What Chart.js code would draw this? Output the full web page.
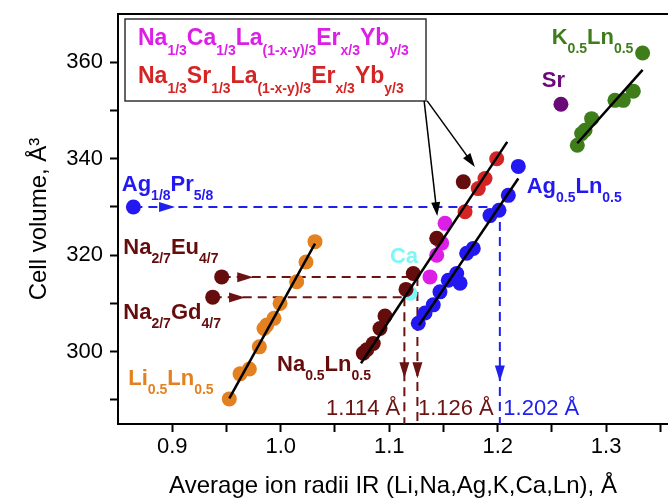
<!DOCTYPE html>
<html><head><meta charset="utf-8">
<script src="https://cdn.jsdelivr.net/npm/chart.js@4"></script>
<style>html,body{margin:0;padding:0;background:#fff}</style>
</head><body>
<canvas id="c" width="668" height="499"></canvas>
<script>
// ---- data ----
const liX = [1.0316,1.0233,1.0147,0.9994,0.9938,0.9871,0.9846,0.9803,0.9711,0.9625,0.9526];
const liY = [322.8,318.6,314.5,310.0,306.9,305.5,304.8,301.0,296.4,295.4,290.2];
const naX = [1.1683,1.1438,1.1222,1.1155,1.0961,1.0915,1.0853,1.0793,1.0761];
const naY = [335.2,323.5,316.2,312.9,307.4,304.8,301.7,300.4,299.7];
const naCaX = [1.1515,1.1484,1.1438,1.1376];
const naCaY = [326.6,322.5,320.0,315.5];
const naSrX = [1.1991,1.1883,1.1821,1.1699];
const naSrY = [340.0,335.9,333.8,329.0];
const caX = [1.1192];
const caY = [312.1];
const agX = [1.2190,1.2098,1.2012,1.1929,1.1775,1.1714,1.1622,1.1653,1.1545,1.1468,1.1406,1.1330,1.1268];
const agY = [338.4,332.4,329.3,328.2,321.4,320.4,316.2,314.2,314.8,312.4,309.7,308.0,305.9];
const kX = [1.3336,1.3250,1.3158,1.3081,1.2866,1.2805,1.2774,1.2734];
const kY = [361.9,354.0,352.1,352.1,348.3,345.9,345.2,342.8];
const srX = [1.2583];
const srY = [351.3];
const euX = [0.9456], euY = [315.5];
const gdX = [0.9373], gdY = [311.3];
const agPrX = [0.8642], agPrY = [330.0];
// fitted lines (end points)
const liFitX = [0.9526,1.0316], liFitY = [290.3,322.4];
const naFitX = [1.0740,1.2088], naFitY = [297.6,343.5];
const agFitX = [1.1275,1.2190], agFitY = [305.5,335.9];
const kFitX = [1.2734,1.3336], kFitY = [343.2,358.4];
// marked radii
const irMarks = [1.114, 1.126, 1.202];
// tick values
const xMajor = [0.9,1.0,1.1,1.2,1.3];
const xTicks = [0.9,0.95,1.0,1.05,1.1,1.15,1.2,1.25,1.3,1.35];
const yMajor = [300,320,340,360];
const yTicks = [290,300,310,320,330,340,350,360];

const C = {li:'#e3801f', na:'#650c0c', naCa:'#dc1fe6', naSr:'#d42525', ca:'#7ef7f7',
           ag:'#2418f2', k:'#3f7d1b', sr:'#6a0a78', blueLine:'#2020ee', marLine:'#6b1212'};
const mk = (xs, ys) => xs.map((x,i)=>({x, y: ys[i]}));
const FONT = '"Liberation Sans", Arial, sans-serif';

function pts(xs, ys, color, order){
  return {data: mk(xs,ys), backgroundColor: color, borderWidth: 0, pointRadius: 7.5, pointHoverRadius: 7.5, order: order||3};
}
function fit(xs, ys){
  return {type:'line', data: mk(xs,ys), borderColor:'#000', borderWidth:2.5, pointRadius:0, showLine:true, fill:false, order:1};
}
function dash(xs, ys, color){
  return {type:'line', data: mk(xs,ys), borderColor:color, borderWidth:2, borderDash:[9,6], pointRadius:0, showLine:true, fill:false, order:5};
}

const datasets = [
  dash([agPrX[0], irMarks[2]],[agPrY[0],agPrY[0]], C.blueLine),
  dash([irMarks[2], irMarks[2]],[agPrY[0],285], C.blueLine),
  dash([euX[0], irMarks[1]],[euY[0],euY[0]], C.marLine),
  dash([irMarks[1], irMarks[1]],[euY[0],285], C.marLine),
  dash([gdX[0], irMarks[0]],[gdY[0],gdY[0]], C.marLine),
  dash([irMarks[0], irMarks[0]],[gdY[0],285], C.marLine),
  pts(liX, liY, C.li),
  pts(naCaX, naCaY, C.naCa),
  pts(naX, naY, C.na, 2),
  pts(naSrX, naSrY, C.naSr),
  pts(caX, caY, C.ca, 2),
  pts(agX, agY, C.ag),
  pts(kX, kY, C.k),
  pts(srX, srY, C.sr),
  pts(euX, euY, C.na),
  pts(gdX, gdY, C.na),
  pts(agPrX, agPrY, C.ag),
  fit(liFitX, liFitY), fit(naFitX, naFitY), fit(agFitX, agFitY), fit(kFitX, kFitY)
];

// annotations (data coordinates)
const heads = [
  {x:0.9026, y:330.0, dir:'r', c:C.blueLine},
  {x:0.9747, y:315.4, dir:'r', c:C.marLine},
  {x:0.9671, y:311.2, dir:'r', c:C.marLine},
  {x:irMarks[0], y:294.5, dir:'d', c:C.marLine},
  {x:irMarks[1], y:294.5, dir:'d', c:C.marLine},
  {x:irMarks[2], y:293.8, dir:'d', c:C.blueLine}
];
const pointers = [
  {x0:1.1322, y0:352.0, x1:1.1443, y1:328.1},
  {x0:1.1350, y0:352.0, x1:1.1790, y1:338.3}
];
const labels = [
  {x:1.2498, y:363.85, c:C.k, p:[['K'],['0.5',1],['Ln'],['0.5',1]]},
  {x:1.2406, y:354.87, c:C.sr, p:[['Sr']]},
  {x:1.2267, y:332.92, c:C.ag, p:[['Ag'],['0.5',1],['Ln'],['0.5',1]]},
  {x:0.8535, y:333.27, c:C.ag, p:[['Ag'],['1/8',1],['Pr'],['5/8',1]]},
  {x:0.8549, y:320.23, c:C.na, p:[['Na'],['2/7',1],['Eu'],['4/7',1]]},
  {x:0.8549, y:306.77, c:C.na, p:[['Na'],['2/7',1],['Gd'],['4/7',1]]},
  {x:0.8595, y:293.1, c:C.li, p:[['Li'],['0.5',1],['Ln'],['0.5',1]]},
  {x:0.9966, y:296.0, c:C.na, p:[['Na'],['0.5',1],['Ln'],['0.5',1]]},
  {x:1.1007, y:318.36, c:C.ca, p:[['Ca']]}
];
const valueLabels = [
  {x:1.0418, y:286.9, c:C.marLine, t:irMarks[0].toFixed(3)+' Å'},
  {x:1.1265, y:286.9, c:C.marLine, t:irMarks[1].toFixed(3)+' Å'},
  {x:1.2052, y:286.9, c:C.blueLine, t:irMarks[2].toFixed(3)+' Å'}
];
const legendLines = [
  {c:C.naCa, p:[['Na'],['1/3',1],['Ca'],['1/3',1],['La'],['(1-x-y)/3',1],['Er'],['x/3',1],['Yb'],['y/3',1]]},
  {c:C.naSr, p:[['Na'],['1/3',1],['Sr'],['1/3',1],['La'],['(1-x-y)/3',1],['Er'],['x/3',1],['Yb'],['y/3',1]]}
];

function rich(ctx, x, y, parts, color, big, small, off){
  ctx.fillStyle = color; ctx.textAlign='left'; ctx.textBaseline='alphabetic';
  parts.forEach(([t,sub])=>{
    ctx.font = 'bold ' + (sub?small:big) + 'px ' + FONT;
    ctx.fillText(t, x, sub ? y+off : y);
    x += ctx.measureText(t).width;
  });
}
function head(ctx, x, y, dir, color){
  ctx.save(); ctx.translate(x,y);
  if (dir==='d') ctx.rotate(Math.PI/2);
  ctx.fillStyle=color; ctx.beginPath();
  ctx.moveTo(0,0); ctx.lineTo(-16,-5); ctx.lineTo(-16,5); ctx.closePath(); ctx.fill();
  ctx.restore();
}

const annot = {
  id:'annot',
  afterDatasetsDraw(chart){
    const {ctx, chartArea:a, scales:{x, y}} = chart;
    ctx.save();
    // top frame line
    ctx.strokeStyle='#000'; ctx.lineWidth=2;
    ctx.beginPath(); ctx.moveTo(a.left-1, a.top); ctx.lineTo(chart.width, a.top); ctx.stroke();
    heads.forEach(h=>head(ctx, x.getPixelForValue(h.x), y.getPixelForValue(h.y), h.dir, h.c));
    // legend box
    const bx=a.left+7, by=a.top+5, bw=301, bh=82;
    ctx.fillStyle='#fff'; ctx.fillRect(bx,by,bw,bh);
    ctx.strokeStyle='#333'; ctx.lineWidth=1.5; ctx.strokeRect(bx,by,bw,bh);
    legendLines.forEach((l,i)=>rich(ctx, bx+13, by+26+i*38, l.p, l.c, 23, 14, 10));
    // pointer arrows
    pointers.forEach(p=>{
      const x0=x.getPixelForValue(p.x0), y0=y.getPixelForValue(p.y0);
      const x1=x.getPixelForValue(p.x1), y1=y.getPixelForValue(p.y1);
      ctx.strokeStyle='#000'; ctx.lineWidth=1.5;
      const ang=Math.atan2(y1-y0,x1-x0);
      ctx.beginPath(); ctx.moveTo(x0,y0); ctx.lineTo(x1-12*Math.cos(ang), y1-12*Math.sin(ang)); ctx.stroke();
      ctx.save(); ctx.translate(x1,y1); ctx.rotate(ang); ctx.fillStyle='#000';
      ctx.beginPath(); ctx.moveTo(0,0); ctx.lineTo(-14,-4.5); ctx.lineTo(-14,4.5); ctx.closePath(); ctx.fill();
      ctx.restore();
    });
    labels.forEach(l=>rich(ctx, x.getPixelForValue(l.x), y.getPixelForValue(l.y), l.p, l.c, 22, 14, 9));
    valueLabels.forEach(l=>{
      ctx.font = '22px ' + FONT; ctx.fillStyle=l.c; ctx.textAlign='left'; ctx.textBaseline='alphabetic';
      ctx.fillText(l.t, x.getPixelForValue(l.x), y.getPixelForValue(l.y));
    });
    ctx.restore();
  }
};

const isMajor = (v, list) => list.some(m=>Math.abs(m-v)<1e-6);

new Chart(document.getElementById('c'), {
  type:'scatter',
  data:{datasets},
  plugins:[annot],
  options:{
    responsive:false, animation:false,
    layout:{autoPadding:false, padding:{top:14, right:0, left:0, bottom:0}},
    plugins:{legend:{display:false}, tooltip:{enabled:false}},
    scales:{
      x:{
        type:'linear', min:0.85, max:1.357,
        afterBuildTicks: s => { s.ticks = xTicks.map(v=>({value:v})); },
        afterFit: s => { s.height = 75; s.paddingLeft = 0; s.paddingRight = 0; },
        ticks:{color:'#000', font:{family:FONT, size:22}, padding:2, maxRotation:0, autoSkip:false,
          callback: v => isMajor(v, xMajor) ? v.toFixed(1) : ''},
        grid:{drawOnChartArea:false, drawTicks:true, tickLength:8, tickWidth:2, tickColor:'#000'},
        border:{display:true, color:'#000', width:2},
        title:{display:true, text:'Average ion radii IR (Li,Na,Ag,K,Ca,Ln), Å', color:'#000',
          font:{family:FONT, size:24}, padding:{top:0, bottom:-2}}
      },
      y:{
        type:'linear', min:285, max:370,
        afterBuildTicks: s => { s.ticks = yTicks.map(v=>({value:v})); },
        afterFit: s => { s.width = 118; s.paddingTop = 0; s.paddingBottom = 0; },
        ticks:{color:'#000', font:{family:FONT, size:22}, padding:7, autoSkip:false,
          callback: v => isMajor(v, yMajor) ? String(v) : ''},
        grid:{drawOnChartArea:false, drawTicks:true, tickLength:8, tickWidth:2, tickColor:'#000'},
        border:{display:true, color:'#000', width:2},
        title:{display:true, text:'Cell volume, Å³', color:'#000',
          font:{family:FONT, size:24}, padding:{top:25, bottom:0}}
      }
    }
  }
});
</script>
</body></html>
